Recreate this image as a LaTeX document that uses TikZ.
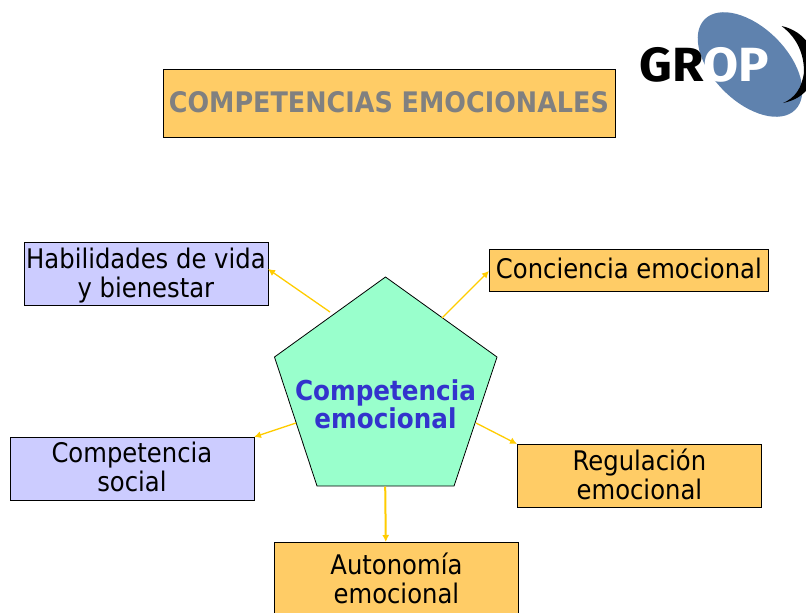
\documentclass[tikz,border=0pt]{standalone}
\usepackage{fontspec}
\setmainfont{DejaVu Sans}[FakeStretch=0.9]
\newfontfamily\logofont{Fira Sans}[UprightFont=* Bold,FakeStretch=1.06]
\usetikzlibrary{arrows.meta}
\definecolor{boxorange}{HTML}{FFCC66}
\definecolor{boxlav}{HTML}{CCCCFF}
\definecolor{penta}{HTML}{99FFCC}
\definecolor{pentatext}{HTML}{3333CC}
\definecolor{titlegrey}{HTML}{808080}
\definecolor{arrowc}{HTML}{FFCC00}
\definecolor{logoblue}{HTML}{5F82AE}
\tikzset{
  basebox/.style={draw=black,line width=0.8pt,anchor=north west,inner sep=0pt},
  orangebox/.style={basebox,fill=boxorange},
  lavbox/.style={basebox,fill=boxlav},
  lbl/.style={inner sep=0pt,align=center,font=\fontsize{27}{29}\selectfont},
  conn/.style={draw=arrowc,line width=1.3pt,-{Latex[length=7pt,width=7pt]}}
}
\begin{document}
\begin{tikzpicture}[x=1pt,y=-1pt]
\useasboundingbox (0,0) rectangle (806,613);
% logo
\fill[logoblue] (750,64.5) ellipse[x radius=64,y radius=37,rotate=-45];
\fill[black] (781.5,26) .. controls (800,40) and (804,58) .. (804,72)
  .. controls (802,88) and (795,98) .. (783,103)
  .. controls (808,98) and (815,80) .. (815,65)
  .. controls (815,45) and (800,30) .. (781.5,26) -- cycle;
\node[anchor=base west,inner sep=0pt,font=\logofont\fontsize{48}{48}\selectfont] (logo) at (639,81)
  {GR\textcolor{white}{OP}};
% title
\node[orangebox,minimum width=452pt,minimum height=68pt] (title) at (162.5,69) {};
\node[lbl,text=titlegrey,font=\bfseries\fontsize{28.3}{31}\selectfont] (titlet) at ([yshift=1pt]title.center) {COMPETENCIAS EMOCIONALES};
% pentagon
\coordinate (p1) at (385.5,277);
\coordinate (p2) at (497,357);
\coordinate (p3) at (454,486);
\coordinate (p4) at (317,486);
\coordinate (p5) at (274.5,357);
\draw[fill=penta,draw=black,line width=0.8pt] (p1)--(p2)--(p3)--(p4)--(p5)--cycle;
\node[lbl,text=pentatext,font=\bfseries\fontsize{27.4}{28}\selectfont] (center) at (385.5,404.5) {Competencia\\emocional};
% boxes
\node[lavbox,minimum width=244pt,minimum height=63pt] (vida) at (23.5,242) {};
\node[orangebox,minimum width=279pt,minimum height=42pt] (conc) at (489,249) {};
\node[lavbox,minimum width=244pt,minimum height=63pt] (social) at (9.5,437) {};
\node[orangebox,minimum width=244pt,minimum height=63pt] (regu) at (517,444) {};
\node[orangebox,minimum width=244pt,minimum height=72pt] (auto) at (274,542) {};
\node[lbl] (vidat) at ([yshift=-2pt]vida.center) {Habilidades de vida\\y bienestar};
\node[lbl] (conct) at ([yshift=2pt]conc.center) {Conciencia emocional};
\node[lbl] (socialt) at ([yshift=2pt]social.center) {Competencia\\social};
\node[lbl] (regut) at ([yshift=2pt]regu.center) {Regulación\\emocional};
\node[lbl] (autot) at (auto.center) {Autonomía\\emocional};
% connector ends on pentagon
\coordinate (s1) at (330,312);
\coordinate (s2) at (442,318);
\coordinate (s3) at (476,423);
\coordinate (s4) at (296,423);
\coordinate (s5) at (385.2,486.5);
\coordinate (e1) at (268,269);
\coordinate (e2) at (489,271);
\coordinate (e3) at (517,444);
\coordinate (e4) at (254,437);
\coordinate (e5) at (385.8,542);
\draw[conn] (s1) -- (e1);
\draw[conn] (s2) -- (e2);
\draw[conn] (s3) -- (e3);
\draw[conn] (s4) -- (e4);
\draw[conn,line width=2pt] (s5) -- (e5);
\end{tikzpicture}
\end{document}
